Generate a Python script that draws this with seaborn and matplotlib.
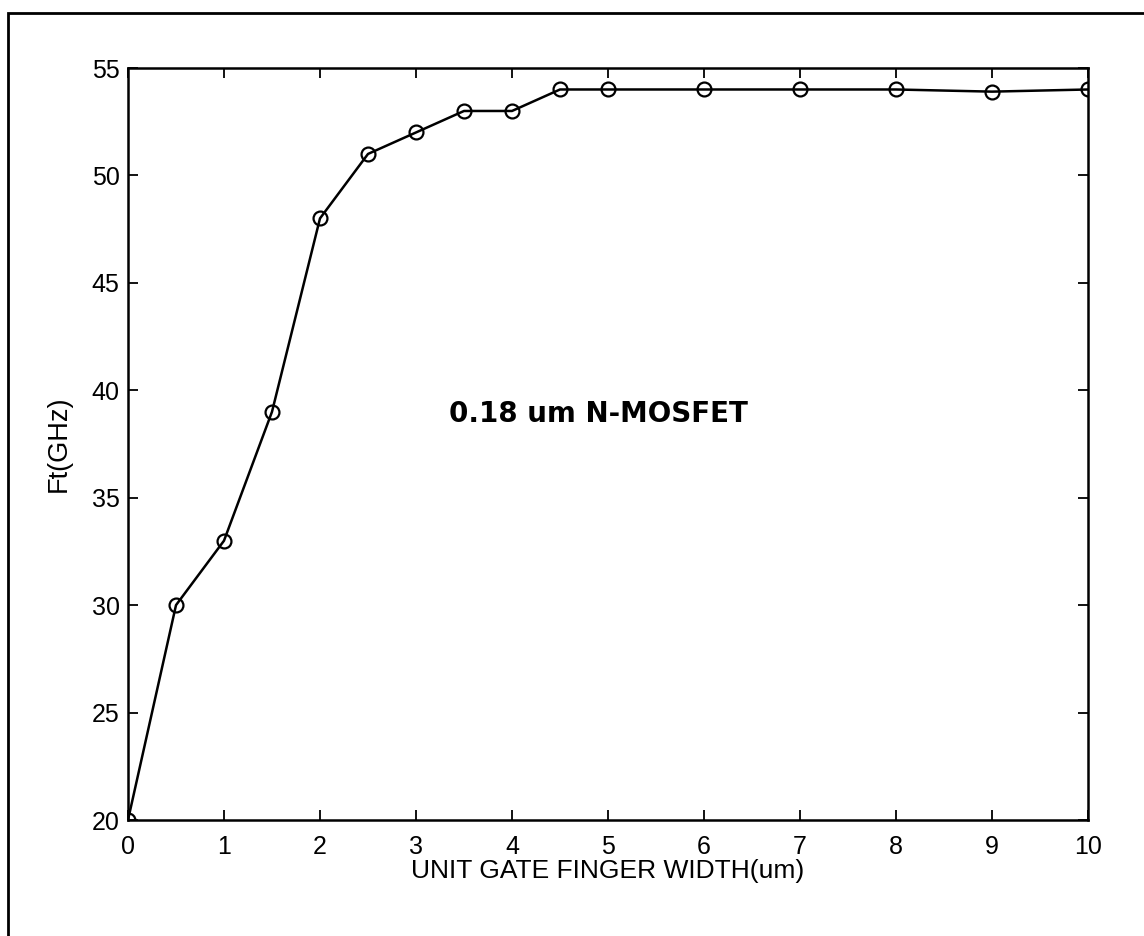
import matplotlib
matplotlib.use("Agg")
import matplotlib.pyplot as plt
import seaborn as sns
import pandas as pd
from matplotlib.patches import Rectangle

width_um = [0, 0.5, 1, 1.5, 2, 2.5, 3, 3.5, 4, 4.5, 5, 6, 7, 8, 9, 10]
ft_ghz = [20, 30, 33, 39, 48, 51, 52, 53, 53, 54, 54, 54, 54, 54, 53.9, 54]
x_ticks = [0, 1, 2, 3, 4, 5, 6, 7, 8, 9, 10]
y_ticks = [20, 25, 30, 35, 40, 45, 50, 55]

sns.set_theme(style="white")
plt.rcParams['font.family'] = ['Liberation Sans', 'DejaVu Sans']

df = pd.DataFrame({"w": width_um, "ft": ft_ghz})

W, H = 1144, 936
fig = plt.figure(figsize=(W / 100, H / 100), dpi=100)
ax = fig.add_axes([128 / W, 1 - 820 / H, (1088 - 128) / W, (820 - 68) / H])

sns.lineplot(data=df, x="w", y="ft", ax=ax, color="black", linewidth=1.8,
             marker="o", markersize=10, markerfacecolor="none",
             markeredgecolor="black", markeredgewidth=1.6)

ax.set_xlim(0, 10)
ax.set_ylim(20, 55)
ax.set_xticks(x_ticks)
ax.set_yticks(y_ticks)
ax.set_xticklabels([str(t) for t in x_ticks])
ax.set_yticklabels([str(t) for t in y_ticks])
ax.tick_params(direction="in", length=7, width=1.3, colors="black",
               labelsize=18, top=True, right=True, bottom=True, left=True)
ax.tick_params(axis="x", pad=11)
ax.tick_params(axis="y", pad=6)
for s in ax.spines.values():
    s.set_visible(True)
    s.set_color("black")
    s.set_linewidth(1.8)
ax.set_xlabel("UNIT GATE FINGER WIDTH(um)", fontsize=19, color="black", labelpad=0)
ax.set_ylabel("Ft(GHz)", fontsize=19.5, color="black", labelpad=14)
ax.grid(False)

ax.text(4.9, 38.9, "0.18 um N-MOSFET", fontsize=20, fontweight="bold",
        family=["DejaVu Sans"], ha="center", va="center", color="black")

fig.patches.append(Rectangle((8 / W, -0.05), 1.1, 1 - 13 / H + 0.05,
                             transform=fig.transFigure, fill=False,
                             edgecolor="black", linewidth=2))

fig.savefig("out.png", dpi=100, facecolor="white")
